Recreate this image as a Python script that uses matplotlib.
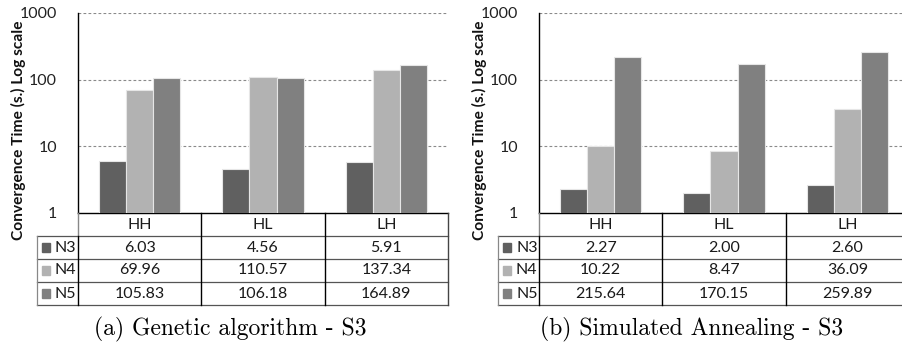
import matplotlib
matplotlib.use("Agg")
import matplotlib.pyplot as plt
from matplotlib.patches import Rectangle
import numpy as np

categories = ["HH", "HL", "LH"]
series_names = ["N3", "N4", "N5"]
ga_n3 = [6.03, 4.56, 5.91]
ga_n4 = [69.96, 110.57, 137.34]
ga_n5 = [105.83, 106.18, 164.89]
sa_n3 = [2.27, 2.00, 2.60]
sa_n4 = [10.22, 8.47, 36.09]
sa_n5 = [215.64, 170.15, 259.89]
yticks = [1, 10, 100, 1000]
ytick_labels = ["1", "10", "100", "1000"]
captions = ["(a) Genetic algorithm - S3", "(b) Simulated Annealing - S3"]
ylabel = "Convergence Time (s.) Log scale"

colors = ["#606060", "#b2b2b2", "#808080"]
FONT = "Lato"
W, H = 902, 345
fig = plt.figure(figsize=(W / 100, H / 100), dpi=100)

def fx(px):
    return px / W

def fy(py):
    return 1 - py / H

panels = [
    dict(data=[ga_n3, ga_n4, ga_n5], x0=78, lab_x0=37, cap_x=230, ylab_x=18),
    dict(data=[sa_n3, sa_n4, sa_n5], x0=539, lab_x0=498, cap_x=692, ylab_x=479),
]
top, bottom, tab_bottom = 13, 213, 305
axw = 370
colw = axw / 3.0

for k, p in enumerate(panels):
    ax = fig.add_axes([fx(p["x0"]), fy(bottom), axw / W, (bottom - top) / H])
    ax.set_yscale("log")
    x = np.arange(len(categories))
    bw = 0.22
    for i, (vals, c) in enumerate(zip(p["data"], colors)):
        ax.bar(x + (i - 1) * bw, vals, width=bw, color=c,
               edgecolor="#e6e6e6", linewidth=0.8, zorder=3)
    ax.set_ylim(1, 1000)
    ax.set_xlim(-0.5, 2.5)
    ax.set_yticks(yticks)
    ax.set_yticklabels(ytick_labels, fontfamily=FONT, fontsize=11.5, color="#222222")
    ax.yaxis.set_minor_locator(matplotlib.ticker.NullLocator())
    ax.tick_params(axis="y", length=0, pad=15)
    ax.set_xticks([])
    for yv in yticks[1:]:
        ax.axhline(yv, color="#8a8a8a", linestyle=(0, (2.5, 2)), linewidth=0.8, zorder=1)
    for s in ["top", "right"]:
        ax.spines[s].set_visible(False)
    ax.spines["left"].set_linewidth(1.0)
    ax.spines["bottom"].set_linewidth(1.0)
    ax.set_facecolor("none")

    # table
    L = (p["x0"] - p["lab_x0"]) / colw
    tax = fig.add_axes([fx(p["lab_x0"]), fy(tab_bottom), (axw + p["x0"] - p["lab_x0"]) / W,
                        (tab_bottom - bottom) / H])
    tax.set_xlim(-0.5 - L, 2.5)
    tax.set_ylim(4, 0)
    tax.axis("off")
    gcol = "#555555"
    for yv in [1, 2, 3, 4]:
        tax.plot([-0.5 - L, 2.5], [yv, yv], color=gcol, lw=0.9, clip_on=False)
    tax.plot([-0.5 - L, -0.5 - L], [1, 4], color="#888888", lw=0.9, clip_on=False)
    tax.plot([-0.5, -0.5], [0, 1], color="#888888", lw=1.0, clip_on=False)
    tax.plot([-0.5, -0.5], [1, 4], color="black", lw=1.0, clip_on=False)
    for xv in [0.5, 1.5]:
        tax.plot([xv, xv], [0, 4], color="black", lw=1.0, clip_on=False)
    tax.plot([2.5, 2.5], [0, 4], color="#444444", lw=1.0, clip_on=False)
    for j, cat in enumerate(categories):
        tax.text(j, 0.5, cat, ha="center", va="center", fontfamily=FONT, fontsize=11.5, color="#1a1a1a")
    for r, (name, vals, c) in enumerate(zip(series_names, p["data"], colors)):
        yc = r + 1.5
        sw = 8 / colw
        tax.add_patch(Rectangle((-0.5 - L + 5 / colw, yc - 0.18), sw, 0.36, color=c, clip_on=False))
        tax.text(-0.5 - 1.5 / colw, yc, name, ha="right", va="center", fontfamily=FONT,
                 fontsize=11.5, color="#1a1a1a")
        for j, v in enumerate(vals):
            tax.text(j, yc, f"{v:.2f}", ha="center", va="center", fontfamily=FONT,
                     fontsize=11.5, color="#1a1a1a")

    fig.text(fx(p["ylab_x"]), fy(130), ylabel, rotation=90, ha="center", va="center",
             fontfamily=FONT, fontweight="bold", fontsize=11.2, color="#111111")
    fig.text(fx(p["cap_x"]), fy(329), captions[k], ha="center", va="center",
             fontfamily="cmr10", fontsize=17)

fig.savefig("out.png", dpi=100)
